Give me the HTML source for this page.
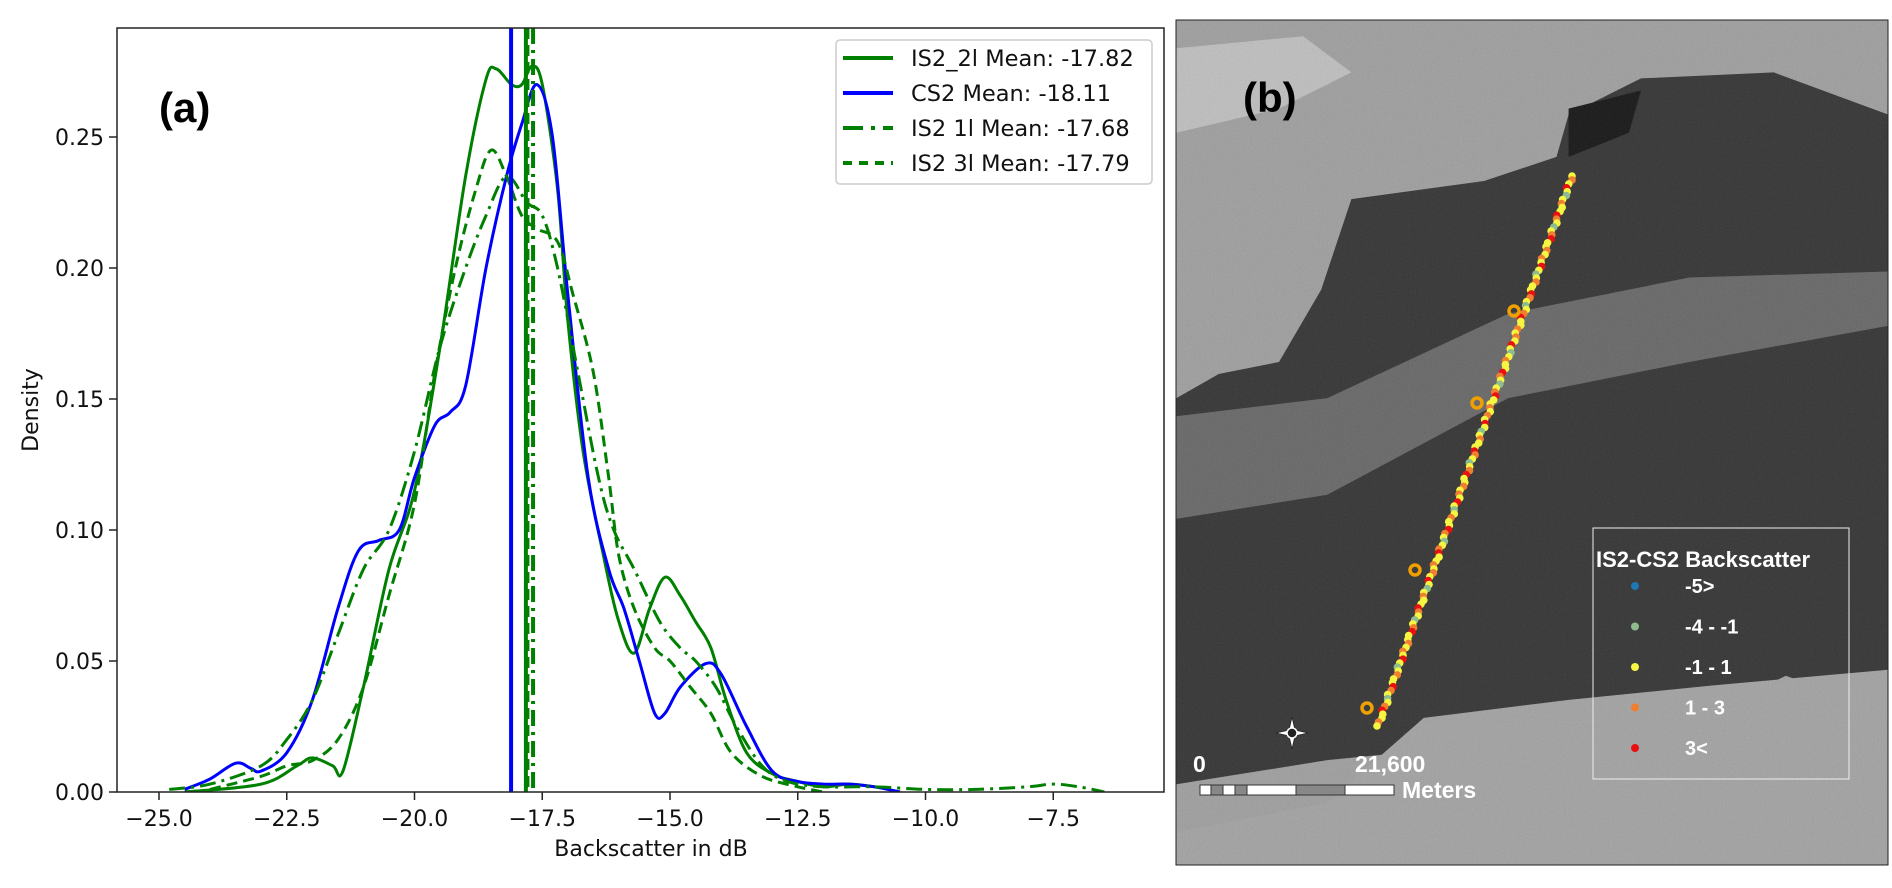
<!DOCTYPE html>
<html><head><meta charset="utf-8"><style>
html,body{margin:0;padding:0;background:#fff;}
svg{display:block;}
text{font-family:"DejaVu Sans","Liberation Sans",sans-serif;}
text.lib{font-family:"Liberation Sans",sans-serif;}
</style></head>
<body>
<svg id="fig" width="1892" height="888" xmlns="http://www.w3.org/2000/svg">
<defs>
<filter id="noise" x="0" y="0" width="100%" height="100%">
<feTurbulence type="fractalNoise" baseFrequency="0.7" numOctaves="2" seed="3"/>
<feColorMatrix type="matrix" values="0.33 0.33 0.33 0 0  0.33 0.33 0.33 0 0  0.33 0.33 0.33 0 0  0 0 0 0 0.12"/>
</filter>
<clipPath id="plotclip"><rect x="117" y="28" width="1047" height="764"/></clipPath>
<clipPath id="mapclip"><rect x="1176" y="20" width="712" height="845"/></clipPath>
</defs>
<g id="chartA"></g>
<g id="mapB" clip-path="url(#mapclip)">
 <g transform="scale(1.2066)">
  <rect x="975" y="17" width="590" height="700" fill="#9c9c9c"/>
  <path d="M975,40 L1080,30 L1120,60 L1060,90 L975,110 Z" fill="#bdbdbd"/>
  <polygon points="975,330 1010,310 1060,300 1095,240 1120,165 1230,150 1290,130 1300,95 1360,65 1470,60 1565,95 1565,590 1480,560 1400,600 1300,620 1200,620 1100,630 975,650" fill="#2c2c2c"/>
  <polygon points="975,345 1100,330 1250,260 1400,230 1565,225 1565,270 1400,300 1250,330 1100,410 975,430" fill="#626262"/>
  <polygon points="1300,90 1360,75 1350,110 1300,130" fill="#0c0c0c"/>
  <polygon points="1180,595 1300,580 1420,568 1565,555 1565,717 975,717 975,690 1100,665" fill="#a0a0a0"/>
  <rect x="975" y="17" width="590" height="700" fill="#888" filter="url(#noise)"/>
 </g>
</g>
<rect x="1176" y="20" width="712" height="845" fill="none" stroke="#222" stroke-width="1"/>
<g id="mapOverlay"></g>
</svg>
<script>
// ---------- Chart (a) data ----------
const xTicks = [-25.0,-22.5,-20.0,-17.5,-15.0,-12.5,-10.0,-7.5];
const yTicks = [0.00,0.05,0.10,0.15,0.20,0.25];
const is2_2l_x = [-24.5,-23,-22.3,-22,-21.6,-21.4,-21,-20.5,-20,-19.5,-19,-18.6,-18.4,-18.1,-17.9,-17.7,-17.5,-17.2,-17,-16.7,-16.3,-16,-15.7,-15.4,-15.1,-14.8,-14.5,-14.2,-13.9,-13.5,-13,-12.5,-12,-11.5,-11,-10.5];
const is2_2l_y = [0,0.003,0.01,0.013,0.01,0.008,0.04,0.085,0.115,0.17,0.235,0.272,0.276,0.27,0.27,0.277,0.27,0.23,0.18,0.13,0.09,0.065,0.053,0.07,0.082,0.075,0.065,0.055,0.035,0.015,0.007,0.004,0.002,0.003,0.002,0];
const cs2_x = [-24.5,-24,-23.5,-23.2,-23,-22.5,-22,-21.5,-21.1,-20.7,-20.3,-20,-19.6,-19.3,-19,-18.6,-18.2,-17.9,-17.6,-17.3,-17,-16.6,-16.2,-15.9,-15.6,-15.3,-15.1,-14.8,-14.3,-14,-13.5,-13,-12.5,-12,-11.5,-11,-10.5];
const cs2_y = [0.001,0.005,0.011,0.009,0.008,0.015,0.035,0.07,0.092,0.096,0.1,0.12,0.14,0.145,0.155,0.2,0.235,0.255,0.27,0.25,0.19,0.12,0.085,0.07,0.05,0.03,0.03,0.04,0.049,0.045,0.025,0.008,0.004,0.003,0.003,0.002,0];
const is2_1l_x = [-24.8,-24,-23,-22.5,-22,-21.5,-21,-20.5,-20,-19.5,-19,-18.6,-18.2,-17.8,-17.5,-17.2,-16.8,-16.4,-16.1,-15.7,-15.2,-14.8,-14.5,-14.1,-13.7,-13.2,-12.7,-12,-11,-10,-9,-8,-7.5,-7,-6.5];
const is2_1l_y = [0.001,0.003,0.01,0.02,0.035,0.06,0.085,0.1,0.13,0.17,0.2,0.22,0.235,0.225,0.22,0.2,0.16,0.12,0.1,0.085,0.065,0.055,0.05,0.04,0.025,0.01,0.004,0.002,0.002,0.001,0.001,0.002,0.003,0.002,0];
const is2_3l_x = [-24,-23,-22.5,-22,-21.5,-21,-20.5,-20,-19.6,-19.2,-18.8,-18.5,-18.2,-17.9,-17.6,-17.2,-16.9,-16.5,-16.2,-16,-15.7,-15.3,-15,-14.6,-14.2,-13.8,-13.2,-12.5,-12];
const is2_3l_y = [0.001,0.006,0.01,0.012,0.02,0.04,0.075,0.11,0.16,0.2,0.23,0.245,0.235,0.22,0.215,0.21,0.19,0.16,0.12,0.09,0.07,0.055,0.05,0.04,0.03,0.015,0.006,0.002,0];
const meanValues = [-17.82,-18.11,-17.68,-17.79];
const legendLabels = ["IS2_2l Mean: -17.82","CS2 Mean: -18.11","IS2 1l Mean: -17.68","IS2 3l Mean: -17.79"];

const NS="http://www.w3.org/2000/svg";
const X0=117,X1=1164,Y0=28,Y1=792;
function sx(v){return 159+(v+25)*51.1;}
function sy(v){return 792-v*2620;}
function mk(tag,attrs,parent){const e=document.createElementNS(NS,tag);for(const k in attrs)e.setAttribute(k,attrs[k]);parent.appendChild(e);return e;}
function smooth(xs,ys){
  const p=xs.map((x,i)=>[sx(x),sy(ys[i])]);
  let d="M"+p[0][0].toFixed(1)+","+p[0][1].toFixed(1);
  for(let i=0;i<p.length-1;i++){
    const a=p[i-1]||p[i],b=p[i],c=p[i+1],e=p[i+2]||c;
    const c1=[b[0]+(c[0]-a[0])/6,b[1]+(c[1]-a[1])/6],c2=[c[0]-(e[0]-b[0])/6,c[1]-(e[1]-b[1])/6];
    d+=" C"+c1[0].toFixed(1)+","+c1[1].toFixed(1)+" "+c2[0].toFixed(1)+","+c2[1].toFixed(1)+" "+c[0].toFixed(1)+","+c[1].toFixed(1);
  }
  return d;
}
const g=document.getElementById('chartA');
const plot=mk('g',{'clip-path':'url(#plotclip)'},g);


const styles=[{c:'#008000',dash:''},{c:'#0000ff',dash:''},{c:'#008000',dash:'16 6 3 6'},{c:'#008000',dash:'11 6'}];
const names=['is2-2l','cs2','is2-1l','is2-3l'];
const series=[[is2_2l_x,is2_2l_y],[cs2_x,cs2_y],[is2_1l_x,is2_1l_y],[is2_3l_x,is2_3l_y]];
series.forEach((s,i)=>{
  const p=mk('path',{d:smooth(s[0],s[1]),fill:'none',stroke:styles[i].c,'stroke-width':3,'stroke-dasharray':styles[i].dash},plot);
  
  
});
meanValues.forEach((m,i)=>{
  const l=mk('line',{x1:sx(m),x2:sx(m),y1:Y0,y2:Y1,stroke:styles[i].c,'stroke-width':4,'stroke-dasharray':styles[i].dash},plot);
  
  
});
const frame=mk('rect',{x:X0,y:Y0,width:X1-X0,height:Y1-Y0,fill:'none',stroke:'#222','stroke-width':1.5},g);


xTicks.forEach(v=>{
  const t=mk('line',{x1:sx(v),x2:sx(v),y1:Y1,y2:Y1+8,stroke:'#222','stroke-width':1.5},g);
  
  
  const tx=mk('text',{x:sx(v),y:Y1+34,'text-anchor':'middle','font-size':22,fill:'#111'},g);
  tx.textContent=(v<0?'\u2212':'')+Math.abs(v).toFixed(1);
  
  
});
yTicks.forEach(v=>{
  const t=mk('line',{x1:X0-8,x2:X0,y1:sy(v),y2:sy(v),stroke:'#222','stroke-width':1.5},g);
  
  
  const tx=mk('text',{x:X0-13,y:sy(v)+8,'text-anchor':'end','font-size':22,fill:'#111'},g);
  tx.textContent=v.toFixed(2);
  
  
});
const xl=mk('text',{x:651,y:856,'text-anchor':'middle','font-size':22,fill:'#111'},g);
xl.textContent='Backscatter in dB';


const yl=mk('text',{x:38,y:410,'text-anchor':'middle','font-size':22,fill:'#111',transform:'rotate(-90 38 410)'},g);
yl.textContent='Density';


const pa=mk('text',{x:159,y:122,'font-size':42,'font-weight':'bold',fill:'#000','class':'lib'},g);
pa.textContent='(a)';


const lg=mk('g',{},g);


mk('rect',{x:836,y:40,width:316,height:144,rx:4,fill:'#fff',stroke:'#ccc','stroke-width':1.5},lg);
legendLabels.forEach((s,i)=>{
  const y=58+i*35;
  const ln=mk('line',{x1:843,x2:893,y1:y,y2:y,stroke:styles[i].c,'stroke-width':4,'stroke-dasharray':i==2?'20 8 4 8':(i==3?'9 7':'')},lg);
  
  
  const tx=mk('text',{x:911,y:y+8,'font-size':22.5,fill:'#111'},lg);
  tx.textContent=s;
  
  
});

// ---------- Map (b) overlay ----------
const dotColors=['yellow','orange','yellow','red','yellow','green','yellow','orange','yellow','yellow','red','orange','yellow','green','yellow','orange','red','yellow','yellow','orange'];
const colorMap={blue:'#1f77b4',green:'#8fbc8f',yellow:'#f5f542',orange:'#f08030',red:'#e81010'};
const ov=document.getElementById('mapOverlay');
const trackStart=[1572,176],trackEnd=[1378,726];
for(let i=0;i<=140;i++){
  const t=i/140;
  const x=trackStart[0]+(trackEnd[0]-trackStart[0])*t+Math.sin(i*1.7)*1.5;
  const y=trackStart[1]+(trackEnd[1]-trackStart[1])*t;
  const c=mk('circle',{cx:x.toFixed(1),cy:y.toFixed(1),r:3.8,fill:colorMap[dotColors[i%dotColors.length]]},ov);
  
  
}
[[1514,311],[1477,403],[1415,570],[1367,708]].forEach(p=>{
  const c=mk('circle',{cx:p[0],cy:p[1],r:5,fill:'none',stroke:'#f0a000','stroke-width':3.5},ov);
  
  
});
const pb=mk('text',{x:1243,y:112,'font-size':42,'font-weight':'bold',fill:'#000','class':'lib'},ov);
pb.textContent='(b)';


const mlg=mk('g',{},ov);


mk('rect',{x:1593,y:528,width:256,height:251,fill:'none',stroke:'#eee','stroke-width':1},mlg);
const mt=mk('text',{x:1596,y:567,'font-size':22,'font-weight':'bold',fill:'#fff','class':'lib'},mlg);
mt.textContent='IS2-CS2 Backscatter';
const mlabels=['-5>','-4 - -1','-1 - 1','1 - 3','3<'];
const mcols=['blue','green','yellow','orange','red'];
mlabels.forEach((s,i)=>{
  const y=586+i*40.5;
  const d=mk('circle',{cx:1635,cy:y,r:4,fill:colorMap[mcols[i]]},mlg);
  
  
  const tx=mk('text',{x:1685,y:y+7,'font-size':20,'font-weight':'bold',fill:'#fff','class':'lib'},mlg);
  tx.textContent=s;
  
  
});
const sb=mk('g',{},ov);


[[1200,11,'#fff'],[1211,12,'#888'],[1223,12,'#fff'],[1235,12,'#888'],[1247,49,'#fff'],[1296,49,'#888'],[1345,49,'#fff']].forEach(r=>mk('rect',{x:r[0],y:785,width:r[1],height:10,fill:r[2],stroke:'#333','stroke-width':1},sb));
[['0',1193,772],['21,600',1355,772],['Meters',1402,798]].forEach(a=>{
  const tx=mk('text',{x:a[1],y:a[2],'font-size':23,'font-weight':'bold',fill:'#fff','class':'lib'},sb);
  tx.textContent=a[0];
});
const cp=mk('g',{transform:'translate(1292,733)'},ov);


mk('polygon',{points:'0,-16 3,-3 16,0 3,3 0,16 -3,3 -16,0 -3,-3',fill:'#fff',stroke:'#222','stroke-width':0.8},cp);
mk('circle',{r:5,fill:'#222',stroke:'#fff','stroke-width':1.5},cp);
</script>
</body></html>
